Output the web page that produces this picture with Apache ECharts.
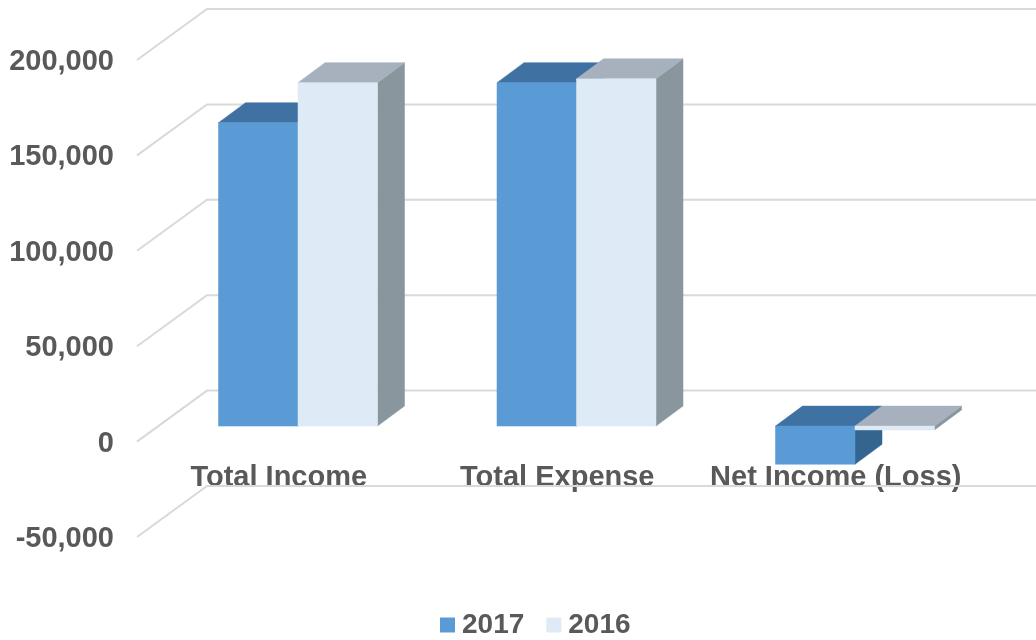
<!DOCTYPE html>
<html>
<head>
<meta charset="utf-8">
<style>html,body{margin:0;padding:0;background:#fff}#chart{width:1036px;height:640px}</style>
<script src="https://cdn.jsdelivr.net/npm/echarts@6/dist/echarts.min.js"></script>
</head>
<body>
<div id="chart"></div>
<script>
// Income statement summary, two years side by side, as 3D-look columns
const categories = ['Total Income', 'Total Expense', 'Net Income (Loss)'];
const values2017 = [159000, 180000, -20000];
const values2016 = [180000, 182000, -2000];
const yTicks = [-50000, 0, 50000, 100000, 150000, 200000];

// Projection offsets, in pixels
const WALL_DX = 70, WALL_DY = -51;     // front of the floor to the back wall
const BAR_DX = 19.25, BAR_DY = -17.5;  // axis plane to the bar front plane
const DEPTH_DX = 27, DEPTH_DY = -20;   // bar depth
const LABEL_NUDGE_X = 2.5;             // axis labels sit slightly right of the floor edge
const LABEL_NUDGE_Y = 2;               // and slightly below it
const BAR_RATIO = 0.2855;              // bar width as a share of the category band

const grey = '#595959';

function poly(points, fill) {
  return { type: 'polygon', shape: { points }, style: { fill, stroke: fill, lineWidth: 0.5 } };
}

// One column: front rectangle, top face and right side face
function barRenderer(side, colors) {
  return function (params, api) {
    const idx = api.value(0), v = api.value(1);
    const bandW = api.size([1, 0])[0];
    const w = bandW * BAR_RATIO;
    const base = api.coord([idx, 0]);
    const tip = api.coord([idx, v]);
    const x0 = base[0] + BAR_DX + (side < 0 ? -w : 0);
    const x1 = x0 + w;
    const yTop = Math.min(base[1], tip[1]) + BAR_DY;
    const yBot = Math.max(base[1], tip[1]) + BAR_DY;
    const d = [DEPTH_DX, DEPTH_DY];
    return {
      type: 'group',
      children: [
        poly([[x1, yTop], [x1 + d[0], yTop + d[1]], [x1 + d[0], yBot + d[1]], [x1, yBot]], colors.side),
        poly([[x0, yTop], [x1, yTop], [x1 + d[0], yTop + d[1]], [x0 + d[0], yTop + d[1]]], colors.top),
        poly([[x0, yTop], [x1, yTop], [x1, yBot], [x0, yBot]], colors.front)
      ]
    };
  };
}

// Gridline bent across the floor edge and along the back wall
function wallRenderer(params, api) {
  const y = api.coord([0, api.value(0)])[1] - LABEL_NUDGE_Y;
  const cs = params.coordSys;
  const xFront = cs.x - LABEL_NUDGE_X;
  const xBack = xFront + WALL_DX;
  return {
    type: 'polyline',
    shape: { points: [[xFront, y], [xBack, y + WALL_DY], [cs.x + cs.width + WALL_DX, y + WALL_DY]] },
    style: { fill: 'none', stroke: '#d9d9d9', lineWidth: 2 }
  };
}

const chart = echarts.init(document.getElementById('chart'), null, { renderer: 'canvas' });
chart.setOption({
  animation: false,
  backgroundColor: '#ffffff',
  textStyle: { fontFamily: '"Liberation Sans", Arial, sans-serif' },
  grid: { left: 139.5, top: 62, width: 835.5, height: 477 },
  legend: {
    data: ['2017', '2016'],
    left: 440,
    top: 611,
    padding: 0,
    itemWidth: 15,
    itemHeight: 15,
    itemGap: 22,
    icon: 'rect',
    textStyle: { fontSize: 28, fontWeight: 'bold', color: grey, padding: [0, 0, 0, 2], fontFamily: '"Liberation Sans", Arial, sans-serif' }
  },
  xAxis: {
    type: 'category',
    data: categories,
    axisLine: { show: false },
    axisTick: { show: false },
    splitLine: { show: false },
    axisLabel: { interval: 0, margin: -76, fontSize: 29, fontWeight: 'bold', color: grey, hideOverlap: false }
  },
  yAxis: {
    type: 'value',
    min: -50000,
    max: 200000,
    interval: 50000,
    axisLine: { show: false },
    axisTick: { show: false },
    splitLine: { show: false },
    axisLabel: { margin: 25.5, fontSize: 29, fontWeight: 'bold', color: grey }
  },
  series: [
    {
      type: 'custom',
      name: 'walls',
      silent: true,
      z: 1,
      renderItem: wallRenderer,
      encode: { y: 0 },
      data: yTicks.map(v => [v])
    },
    {
      type: 'custom',
      name: '2017',
      z: 2,
      itemStyle: { color: '#5b9bd5' },
      renderItem: barRenderer(-1, { front: '#5b9bd5', top: '#3f72a3', side: '#33658f' }),
      encode: { x: 0, y: 1 },
      data: values2017.map((v, i) => [i, v])
    },
    {
      type: 'custom',
      name: '2016',
      z: 3,
      itemStyle: { color: '#deeaf6' },
      renderItem: barRenderer(1, { front: '#deeaf6', top: '#a6b1bd', side: '#8a969e' }),
      encode: { x: 0, y: 1 },
      data: values2016.map((v, i) => [i, v])
    }
  ]
});
</script>
</body>
</html>
